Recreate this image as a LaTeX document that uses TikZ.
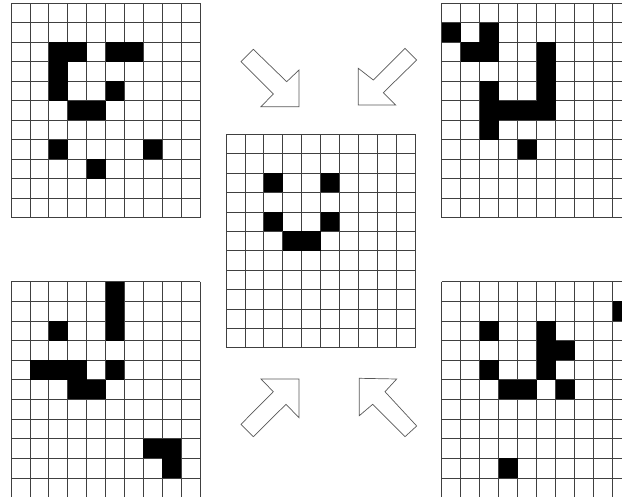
\documentclass[tikz,border=0pt]{standalone}
\newcommand{\pixgrid}[5]{%
  \foreach \i in {0,...,10} \draw[gridline] ({#1+\i*#3},#2) -- ++(0,{11*#4});
  \foreach \j in {0,...,11} \draw[gridline] (#1,{#2+\j*#4}) -- ++({10*#3},0);
  \foreach \c/\r in {#5} \fill[black] ({#1+\c*#3},{#2+\r*#4}) rectangle ++(#3,#4);
}
\begin{document}
\begin{tikzpicture}[x=1pt,y=-1pt,
  gridline/.style={draw=black!75,line width=0.7pt},
  bigarrow/.style={draw=black!65,line width=0.7pt,fill=white,line join=miter}]
\useasboundingbox (0,0) rectangle (622,497);
\clip (0,0) rectangle (622,497);
\fill[white] (0,0) rectangle (622,497);
% top-left
\pixgrid{11}{3.3}{18.9}{19.5}{2/2,3/2,5/2,6/2,2/3,2/4,5/4,3/5,4/5,2/7,7/7,4/8}
% top-right
\pixgrid{441.7}{3.3}{19}{19.5}{0/1,2/1,1/2,2/2,5/2,5/3,2/4,5/4,2/5,3/5,4/5,5/5,2/6,4/7}
% center
\pixgrid{226}{134.3}{18.9}{19.4}{2/2,5/2,2/4,5/4,3/5,4/5}
% bottom-left
\pixgrid{11}{281.7}{18.9}{19.62}{5/0,5/1,2/2,5/2,1/4,2/4,3/4,5/4,3/5,4/5,7/8,8/8,8/9}
% bottom-right
\pixgrid{441.7}{281.7}{19}{19.62}{9/1,2/2,5/2,5/3,6/3,2/4,5/4,3/5,4/5,6/5,3/9}
% arrows
\draw[bigarrow] (241,61.7) -- (273.3,94) -- (261,106.7) -- (299,106.7) -- (299,70) -- (286.7,81.7) -- (253.3,49.3) -- cycle;
\draw[bigarrow] (416.7,60) -- (383.3,92.7) -- (395.7,105) -- (358.3,105) -- (358.3,68.3) -- (373.3,80) -- (405,48.3) -- cycle;
\draw[bigarrow] (241,424.3) -- (273.3,391.7) -- (261,379) -- (299,379) -- (299,417.7) -- (286,404.3) -- (253.3,436.7) -- cycle;
\draw[bigarrow] (416.7,426) -- (385,391.7) -- (396.7,379) -- (359.3,378.3) -- (359.3,415.7) -- (372.7,404.3) -- (405,436.7) -- cycle;
\end{tikzpicture}
\end{document}
